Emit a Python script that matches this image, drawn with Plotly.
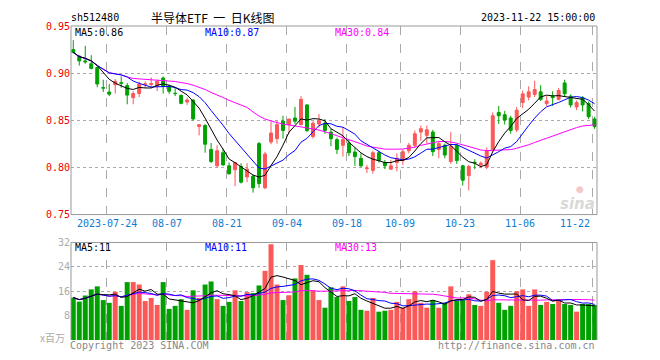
import pandas as pd
import plotly.graph_objects as go

# ---------------- data ----------------
holidays = ["2023-09-29", "2023-10-02", "2023-10-03", "2023-10-04", "2023-10-05", "2023-10-06"]
dates = [d for d in pd.bdate_range("2023-07-14", "2023-11-22").strftime("%Y-%m-%d") if d not in holidays]

opens = [0.925, 0.918, 0.913, 0.910, 0.906, 0.8846, 0.880, 0.8878, 0.8898, 0.8868,
         0.874, 0.8784, 0.888, 0.888, 0.886, 0.8948, 0.886, 0.8786, 0.8764, 0.8694,
         0.8715, 0.8433, 0.8444, 0.819, 0.8017, 0.8156, 0.8017, 0.7975, 0.801, 0.7899,
         0.7906, 0.8253, 0.7784, 0.827, 0.8305, 0.849, 0.8454, 0.8524, 0.8454, 0.8663,
         0.8329, 0.8461, 0.8469, 0.8375, 0.8295, 0.8235, 0.826, 0.8163, 0.8097, 0.7988,
         0.7969, 0.8156, 0.8052, 0.7982, 0.8052, 0.8073, 0.8177, 0.8235, 0.8375, 0.834,
         0.8375, 0.819, 0.8235, 0.8063, 0.8235, 0.8017, 0.7913, 0.8055, 0.8027, 0.8003,
         0.8191, 0.8583, 0.8559, 0.8524, 0.8399, 0.8688, 0.8746, 0.8774, 0.8802, 0.8677,
         0.8756, 0.8722, 0.8896, 0.8756, 0.8642, 0.874, 0.8677, 0.8514]
highs = [0.935, 0.919, 0.929, 0.919, 0.907, 0.893, 0.8885, 0.8938, 0.8965, 0.8896,
         0.8808, 0.8912, 0.8912, 0.8955, 0.893, 0.8965, 0.8878, 0.885, 0.8774, 0.874,
         0.872, 0.8454, 0.8461, 0.826, 0.8235, 0.820, 0.8052, 0.8055, 0.8045, 0.8045,
         0.7923, 0.827, 0.8167, 0.849, 0.8496, 0.8548, 0.8514, 0.8642, 0.8756, 0.867,
         0.849, 0.8566, 0.8514, 0.8409, 0.8316, 0.8427, 0.8295, 0.8212, 0.8149, 0.8028,
         0.8177, 0.8177, 0.808, 0.808, 0.8149, 0.8191, 0.826, 0.8392, 0.8444, 0.8444,
         0.8399, 0.8281, 0.8253, 0.8375, 0.8253, 0.8028, 0.8028, 0.8087, 0.8063, 0.8212,
         0.8583, 0.8652, 0.860, 0.8548, 0.8642, 0.8816, 0.886, 0.892, 0.8871, 0.8756,
         0.8808, 0.8844, 0.893, 0.8774, 0.8711, 0.8756, 0.8698, 0.8538]
lows = [0.921, 0.908, 0.910, 0.904, 0.885, 0.880, 0.8756, 0.8784, 0.8844, 0.867,
        0.867, 0.8746, 0.8844, 0.8844, 0.881, 0.8784, 0.878, 0.8756, 0.867, 0.8663,
        0.8496, 0.834, 0.8156, 0.8045, 0.800, 0.8017, 0.7923, 0.780, 0.7829, 0.7844,
        0.7733, 0.7784, 0.777, 0.8246, 0.8253, 0.8305, 0.8357, 0.8461, 0.8444, 0.8375,
        0.8305, 0.842, 0.8357, 0.8225, 0.8142, 0.8115, 0.812, 0.8017, 0.8003, 0.7941,
        0.7933, 0.8052, 0.7982, 0.7975, 0.7958, 0.8027, 0.8149, 0.8212, 0.8281, 0.8253,
        0.8121, 0.8097, 0.8097, 0.8038, 0.8038, 0.7808, 0.7756, 0.7982, 0.7993, 0.7982,
        0.8167, 0.8461, 0.8454, 0.8357, 0.8375, 0.8628, 0.8711, 0.8746, 0.8704, 0.8652,
        0.8652, 0.8711, 0.8756, 0.8635, 0.8607, 0.8594, 0.8514, 0.8409]
closes = [0.922, 0.913, 0.912, 0.905, 0.8885, 0.8842, 0.8777, 0.8913, 0.8893, 0.8767,
          0.8784, 0.8885, 0.8886, 0.889, 0.8913, 0.886, 0.8808, 0.8783, 0.868, 0.8715,
          0.8514, 0.8454, 0.8246, 0.8063, 0.8177, 0.8027, 0.7933, 0.8052, 0.7844, 0.7982,
          0.7784, 0.7829, 0.8142, 0.8365, 0.8454, 0.8392, 0.8514, 0.849, 0.8722, 0.8392,
          0.8469, 0.8496, 0.8392, 0.8305, 0.8191, 0.8295, 0.8156, 0.8115, 0.8017, 0.7993,
          0.8156, 0.8073, 0.8017, 0.8017, 0.8097, 0.8167, 0.8235, 0.8357, 0.841, 0.8399,
          0.8167, 0.8253, 0.8131, 0.8225, 0.8073, 0.7864, 0.801, 0.805, 0.8045, 0.8177,
          0.8548, 0.8548, 0.8503, 0.8392, 0.8607, 0.878, 0.8802, 0.8826, 0.8722, 0.8704,
          0.874, 0.8816, 0.8781, 0.8663, 0.8688, 0.8663, 0.8538, 0.8433]
volumes = [13.9, 12.6, 14.6, 16.6, 17.6, 13.1, 12.2, 15.8, 11.2, 19.0,
           19.0, 18.2, 12.8, 13.8, 11.5, 19.0, 10.2, 11.2, 13.4, 9.9,
           16.3, 13.8, 18.2, 19.2, 13.4, 11.2, 12.5, 16.3, 12.8, 15.7,
           15.4, 17.9, 22.7, 31.4, 18.2, 13.1, 14.7, 20.2, 24.6, 21.4,
           16.3, 13.1, 10.6, 17.3, 14.1, 17.6, 12.8, 14.1, 9.9, 9.6,
           13.8, 9.3, 9.6, 9.9, 12.5, 10.6, 13.4, 16.0, 12.2, 10.6,
           13.1, 10.6, 12.2, 17.6, 12.8, 13.1, 15.0, 11.5, 11.2, 15.8,
           26.2, 12.2, 9.9, 11.2, 16.0, 16.6, 11.2, 16.6, 11.5, 12.5,
           11.8, 13.1, 11.8, 11.5, 9.3, 11.8, 11.8, 11.5]

tick_dates = ["2023-07-24", "2023-08-07", "2023-08-21", "2023-09-04", "2023-09-18",
              "2023-10-09", "2023-10-23", "2023-11-06", "2023-11-22"]
tick_labels = ["2023-07-24", "08-07", "08-21", "09-04", "09-18", "10-09", "10-23", "11-06", "11-22"]
price_ticks = [0.75, 0.80, 0.85, 0.90, 0.95]
vol_ticks = [8, 16, 24, 32]

# ---------------- styles ----------------
RED = "#fb5858"
GREEN = "#00a000"
MONO = "DejaVu Sans Mono"
CJK = "Noto Sans CJK SC"
GRID = "#aaaaaa"
BORDER = "#999999"

# page body has an 8px margin: figure is drawn 8px in from the window corner
OFF = 8
W, H = 660 - OFF, 360 - OFF
PL, PR, PT, PB = 70.7, 597.3, 20.3, 340.0   # plot area in window pixels

idx = list(range(len(dates)))
c = pd.Series(closes)
v = pd.Series(volumes)
ma = {n: c.rolling(n, min_periods=1).mean() for n in (5, 10, 30)}
vma = {n: v.rolling(n, min_periods=1).mean() for n in (5, 10, 30)}
ma_colors = {5: "#000000", 10: "#0000ff", 30: "#ff00ff"}
vol_colors = [RED if cl >= op else GREEN for op, cl in zip(opens, closes)]
tick_pos = [dates.index(d) - 0.4 for d in tick_dates]

fig = go.Figure()
fig.add_trace(go.Candlestick(
    x=idx, open=opens, high=highs, low=lows, close=closes,
    increasing=dict(line=dict(color=RED, width=1), fillcolor=RED),
    decreasing=dict(line=dict(color=GREEN, width=1), fillcolor=GREEN),
    whiskerwidth=0, showlegend=False, hoverinfo="skip", xaxis="x", yaxis="y"))
for n in (30, 10, 5):
    fig.add_trace(go.Scatter(x=idx, y=ma[n], mode="lines", line=dict(color=ma_colors[n], width=1),
                             showlegend=False, hoverinfo="skip", xaxis="x", yaxis="y"))
fig.add_trace(go.Bar(x=idx, y=volumes, marker=dict(color=vol_colors, line=dict(width=0)),
                     showlegend=False, hoverinfo="skip", xaxis="x2", yaxis="y2"))
for n in (30, 10, 5):
    fig.add_trace(go.Scatter(x=idx, y=vma[n], mode="lines", line=dict(color=ma_colors[n], width=1),
                             showlegend=False, hoverinfo="skip", xaxis="x2", yaxis="y2"))


def py(p):
    return (PB - p) / (PB - PT)


def pxx(p):
    return (p - PL) / (PR - PL)


xr = [-0.38, 87.4]
xcommon = dict(range=xr, tickvals=tick_pos, showticklabels=False, showgrid=True,
               gridcolor=GRID, griddash="dash", gridwidth=1, zeroline=False, ticks="",
               showline=False, fixedrange=True)
fig.update_layout(
    width=W, height=H,
    margin=dict(l=PL - OFF, r=W - (PR - OFF), t=PT - OFF, b=H - (PB - OFF), pad=0),
    paper_bgcolor="white", plot_bgcolor="white", bargap=0.17,
    xaxis=dict(domain=[0, 1], anchor="y", rangeslider=dict(visible=False), **xcommon),
    xaxis2=dict(domain=[0, 1], anchor="y2", matches="x", **xcommon),
    yaxis=dict(domain=[py(212.3), 1], range=[0.75, 0.95], tickvals=price_ticks,
               ticktext=[f"{t:.2f}" for t in price_ticks], showgrid=True, gridcolor=GRID,
               griddash="dot", zeroline=False, ticks="",
               tickfont=dict(family=MONO, size=10, color="#ee0000")),
    yaxis2=dict(domain=[0, py(240.7)], range=[0, 32], tickvals=vol_ticks,
                showgrid=True, gridcolor=GRID, griddash="dot", zeroline=False, ticks="",
                tickfont=dict(family=MONO, size=10, color="#aaaaaa")),
)

shapes = [
    dict(type="rect", xref="x domain", yref="y domain", x0=0, x1=1, y0=0, y1=1,
         line=dict(color=BORDER, width=1), layer="above"),
    dict(type="line", xref="x2 domain", yref="y2 domain", x0=0, x1=1, y0=1, y1=1,
         line=dict(color=BORDER, width=1)),
    dict(type="line", xref="x2 domain", yref="y2 domain", x0=0, x1=0, y0=0, y1=1,
         line=dict(color=BORDER, width=1)),
    dict(type="line", xref="x2 domain", yref="y2 domain", x0=1, x1=1, y0=0, y1=1,
         line=dict(color=BORDER, width=1)),
]
fig.update_layout(shapes=shapes)

ann = []


def add(text, x, y, xanchor="left", color="#000", size=10, family=MONO, xref="paper"):
    ann.append(dict(text=text, x=x, y=y, xref=xref, yref="paper", xanchor=xanchor, yanchor="middle",
                    showarrow=False, font=dict(family=family, size=size, color=color)))


add("sh512480", pxx(69), py(12))
add("半导体ETF  一  日K线图", pxx(149), py(12), size=12, family=CJK)
add("2023-11-22 15:00:00", 1, py(12), xanchor="right")
add("MA5:0.86", pxx(73), py(27), color="#000000")
add("MA10:0.87", pxx(203), py(27), color="#0000ff")
add("MA30:0.84", pxx(333), py(27), color="#ff00ff")
add("MA5:11", pxx(73), py(246), color="#000000")
add("MA10:11", pxx(203), py(246), color="#0000ff")
add("MA30:13", pxx(333), py(246), color="#ff00ff")
for pos, lab in zip(tick_pos, tick_labels):
    last = lab == tick_labels[-1]
    add(lab, pos, py(221), xanchor="right" if last else "center", color="#0f7bd0", xref="x")
add("x百万", pxx(67), py(337), xanchor="right", color="#aaaaaa", size=10, family=CJK)
add("Copyright 2023 SINA.COM", pxx(68), py(346), color="#888888")
add("http://finance.sina.com.cn", 1, py(346), xanchor="right", color="#888888")
add("<b><i>sina</i></b>", pxx(597), py(202), xanchor="right", color="#d9d9d9", size=15, family="DejaVu Sans")
add("●", pxx(580), py(186), xanchor="center", color="#f4c8c8", size=9, family="DejaVu Sans")
fig.update_layout(annotations=ann)

fig.write_html("out.html")
